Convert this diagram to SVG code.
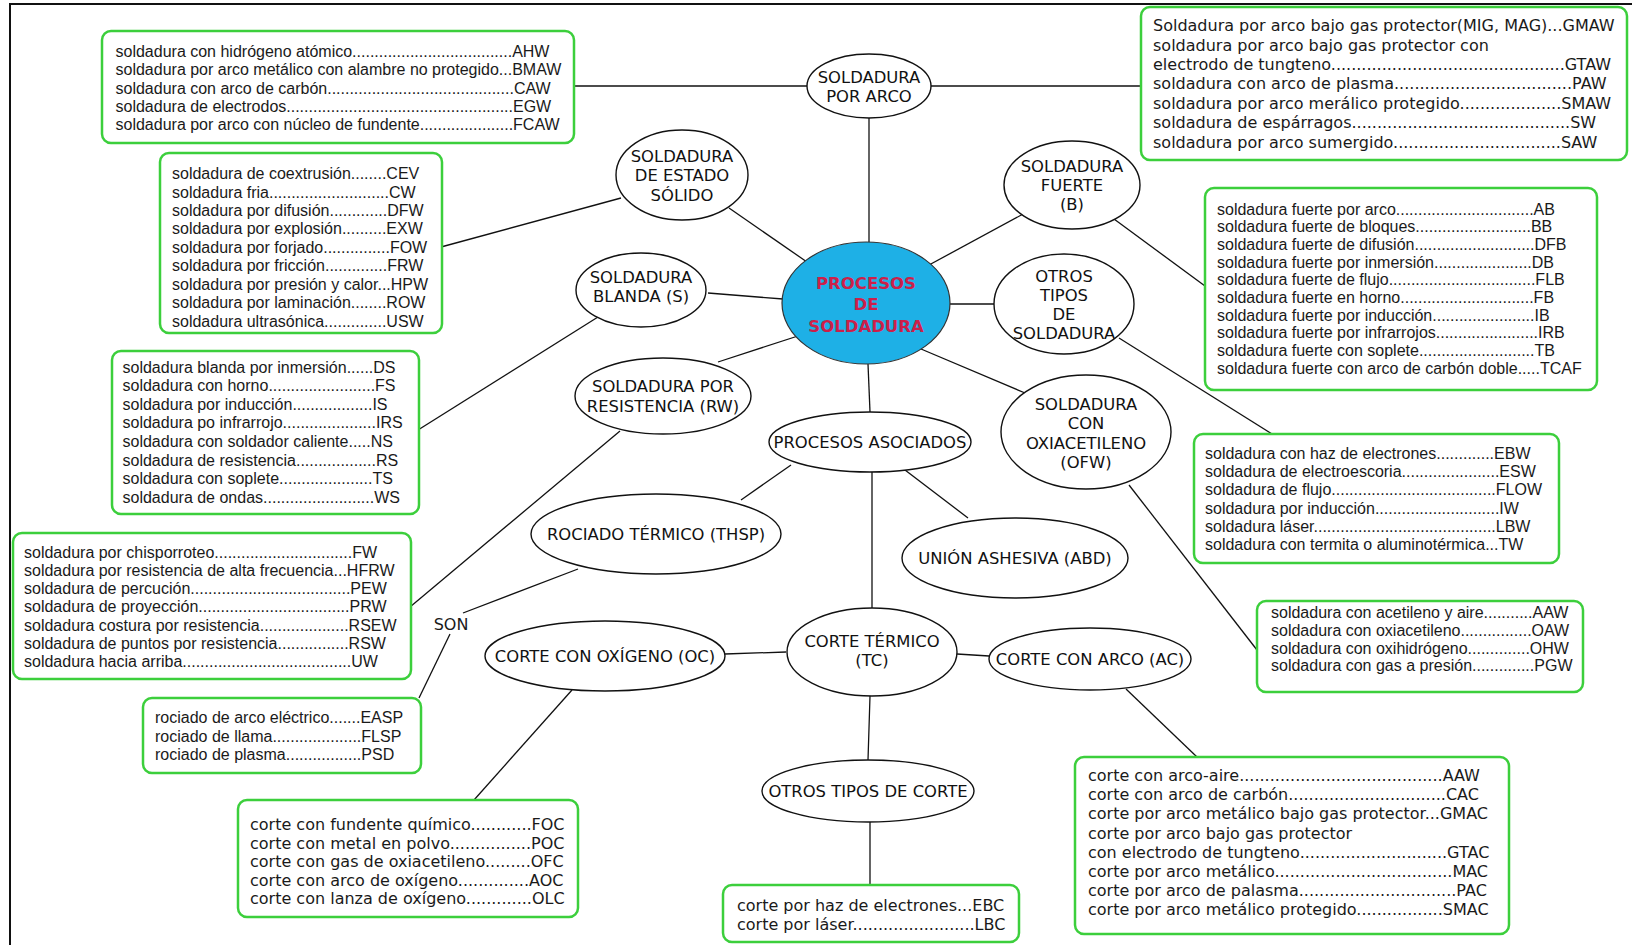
<svg xmlns="http://www.w3.org/2000/svg" width="1632" height="945" viewBox="0 0 1632 945">
<style>
.box{fill:#fff;stroke:#3ccf3c;stroke-width:2.5}
.el{fill:#fff;stroke:#111;stroke-width:1.4}
.a{font-family:"Liberation Sans",Arial,sans-serif;font-size:16px;fill:#1a1a1a}
.v{font-family:"DejaVu Sans",Verdana,sans-serif;font-size:16px;fill:#1a1a1a}
.l{font-family:"DejaVu Sans",Verdana,sans-serif;font-size:16.4px;fill:#111;text-anchor:middle}
.c{stroke:#111;stroke-width:1.3;fill:none}
.ctr{font-family:"DejaVu Sans",Verdana,sans-serif;font-size:16.5px;font-weight:bold;fill:#cc1f4a;text-anchor:middle}
</style>
<rect width="1632" height="945" fill="#fff"/>
<path d="M10,945 V4 H1632" fill="none" stroke="#111" stroke-width="2"/>
<g id="connectors">
<line class="c" x1="573" y1="86" x2="808" y2="86"/>
<line class="c" x1="931" y1="86" x2="1141" y2="86"/>
<line class="c" x1="869" y1="118" x2="869" y2="242"/>
<line class="c" x1="729" y1="208" x2="807" y2="262"/>
<line class="c" x1="441" y1="247" x2="621" y2="198"/>
<line class="c" x1="1025" y1="213" x2="929" y2="265"/>
<line class="c" x1="1114" y1="219" x2="1205" y2="286"/>
<line class="c" x1="708" y1="293" x2="783" y2="299"/>
<line class="c" x1="598" y1="317" x2="418" y2="430"/>
<line class="c" x1="950" y1="304" x2="994" y2="304"/>
<line class="c" x1="1119" y1="338" x2="1272" y2="434"/>
<line class="c" x1="801" y1="335" x2="718" y2="362"/>
<line class="c" x1="620" y1="431" x2="410" y2="607"/>
<line class="c" x1="921" y1="349" x2="1025" y2="393"/>
<line class="c" x1="1129" y1="485" x2="1257" y2="650"/>
<line class="c" x1="868" y1="364" x2="870" y2="412"/>
<line class="c" x1="791" y1="465" x2="741" y2="500"/>
<line class="c" x1="905" y1="470" x2="968" y2="518"/>
<line class="c" x1="872" y1="472" x2="872" y2="608"/>
<line class="c" x1="578" y1="569" x2="463" y2="613"/>
<line class="c" x1="450" y1="634" x2="419" y2="698"/>
<line class="c" x1="786" y1="652" x2="725" y2="654"/>
<line class="c" x1="957" y1="654" x2="989" y2="656"/>
<line class="c" x1="572" y1="690" x2="474" y2="800"/>
<line class="c" x1="870" y1="696" x2="868" y2="760"/>
<line class="c" x1="870" y1="822" x2="870" y2="885"/>
<line class="c" x1="1126" y1="689" x2="1197" y2="757"/>
</g>
<g id="central">
<ellipse cx="866" cy="303" rx="84" ry="61" fill="#1eb0e6" stroke="#333" stroke-width="1.2"/>
<text class="ctr" x="866" y="289">PROCESOS</text>
<text class="ctr" x="866" y="310">DE</text>
<text class="ctr" x="866" y="332">SOLDADURA</text>
</g>
<g id="n-arco"><ellipse class="el" cx="869" cy="86" rx="62" ry="32"/><text class="l" x="869" y="83">SOLDADURA</text><text class="l" x="869" y="102">POR ARCO</text></g>
<g id="n-solido"><ellipse class="el" cx="682" cy="175" rx="66" ry="45"/><text class="l" x="682" y="162">SOLDADURA</text><text class="l" x="682" y="181">DE ESTADO</text><text class="l" x="682" y="200.5">SÓLIDO</text></g>
<g id="n-fuerte"><ellipse class="el" cx="1072" cy="185" rx="68" ry="44"/><text class="l" x="1072" y="171.5">SOLDADURA</text><text class="l" x="1072" y="191">FUERTE</text><text class="l" x="1072" y="210">(B)</text></g>
<g id="n-blanda"><ellipse class="el" cx="641" cy="290" rx="65" ry="37"/><text class="l" x="641" y="283">SOLDADURA</text><text class="l" x="641" y="302">BLANDA (S)</text></g>
<g id="n-otros"><ellipse class="el" cx="1064" cy="304" rx="70" ry="50"/><text class="l" x="1064" y="282">OTROS</text><text class="l" x="1064" y="301">TIPOS</text><text class="l" x="1064" y="320">DE</text><text class="l" x="1064" y="339">SOLDADURA</text></g>
<g id="n-resistencia"><ellipse class="el" cx="663" cy="396" rx="88" ry="38"/><text class="l" x="663" y="392">SOLDADURA POR</text><text class="l" x="663" y="412">RESISTENCIA (RW)</text></g>
<g id="n-oxi"><ellipse class="el" cx="1086" cy="432" rx="85" ry="57"/><text class="l" x="1086" y="410">SOLDADURA</text><text class="l" x="1086" y="429">CON</text><text class="l" x="1086" y="448.5">OXIACETILENO</text><text class="l" x="1086" y="468">(OFW)</text></g>
<g id="n-asociados"><ellipse class="el" cx="870" cy="442" rx="101" ry="30"/><text class="l" x="870" y="448">PROCESOS ASOCIADOS</text></g>
<g id="n-rociado"><ellipse class="el" cx="656" cy="534" rx="125" ry="40"/><text class="l" x="656" y="540">ROCIADO TÉRMICO (THSP)</text></g>
<g id="n-union"><ellipse class="el" cx="1015" cy="558" rx="113" ry="40"/><text class="l" x="1015" y="564">UNIÓN ASHESIVA (ABD)</text></g>
<g id="n-corte"><ellipse class="el" cx="872" cy="652" rx="85" ry="44"/><text class="l" x="872" y="647">CORTE TÉRMICO</text><text class="l" x="872" y="666">(TC)</text></g>
<g id="n-oc"><ellipse class="el" cx="605" cy="656" rx="120" ry="35"/><text class="l" x="605" y="662">CORTE CON OXÍGENO (OC)</text></g>
<g id="n-ac"><ellipse class="el" cx="1090" cy="659" rx="101" ry="31"/><text class="l" x="1090" y="665">CORTE CON ARCO (AC)</text></g>
<g id="n-otroscorte"><ellipse class="el" cx="868" cy="791" rx="106" ry="31"/><text class="l" x="868" y="797">OTROS TIPOS DE CORTE</text></g>
<g id="n-son"><text class="v" x="451" y="630" text-anchor="middle">SON</text></g>
<g id="b-arco1"><rect class="box" x="102" y="31" width="472" height="112" rx="9"/>
<text class="a" x="115.5" y="56.5">soldadura con hidrógeno atómico....................................AHW</text>
<text class="a" x="115.5" y="75">soldadura por arco metálico con alambre no protegido...BMAW</text>
<text class="a" x="115.5" y="93.5">soldadura con arco de carbón..........................................CAW</text>
<text class="a" x="115.5" y="112">soldadura de electrodos...................................................EGW</text>
<text class="a" x="115.5" y="130">soldadura por arco con núcleo de fundente.....................FCAW</text>
</g>
<g id="b-arco2"><rect class="box" x="1141" y="7" width="486" height="153" rx="9"/>
<text class="v" x="1153" y="31">Soldadura por arco bajo gas protector(MIG, MAG)...GMAW</text>
<text class="v" x="1153" y="50.5">soldadura por arco bajo gas protector con</text>
<text class="v" x="1153" y="70">electrodo de tungteno..............................................GTAW</text>
<text class="v" x="1153" y="89.4">soldadura con arco de plasma...................................PAW</text>
<text class="v" x="1153" y="108.8">soldadura por arco merálico protegido....................SMAW</text>
<text class="v" x="1153" y="128.3">soldadura de espárragos...........................................SW</text>
<text class="v" x="1153" y="147.7">soldadura por arco sumergido.................................SAW</text>
</g>
<g id="b-solido"><rect class="box" x="160" y="153" width="282" height="180" rx="9"/>
<text class="a" x="172" y="179">soldadura de coextrusión........CEV</text>
<text class="a" x="172" y="197.5">soldadura fria...........................CW</text>
<text class="a" x="172" y="216">soldadura por difusión.............DFW</text>
<text class="a" x="172" y="234.4">soldadura por explosión..........EXW</text>
<text class="a" x="172" y="252.8">soldadura por forjado...............FOW</text>
<text class="a" x="172" y="271.3">soldadura por fricción..............FRW</text>
<text class="a" x="172" y="289.7">soldadura por presión y calor...HPW</text>
<text class="a" x="172" y="308.2">soldadura por laminación........ROW</text>
<text class="a" x="172" y="326.6">soldadura ultrasónica..............USW</text>
</g>
<g id="b-fuerte"><rect class="box" x="1205" y="188" width="392" height="202" rx="9"/>
<text class="a" x="1217" y="214.5">soldadura fuerte por arco...............................AB</text>
<text class="a" x="1217" y="232.2">soldadura fuerte de bloques..........................BB</text>
<text class="a" x="1217" y="249.9">soldadura fuerte de difusión...........................DFB</text>
<text class="a" x="1217" y="267.6">soldadura fuerte por inmersión......................DB</text>
<text class="a" x="1217" y="285.3">soldadura fuerte de flujo.................................FLB</text>
<text class="a" x="1217" y="303">soldadura fuerte en horno..............................FB</text>
<text class="a" x="1217" y="320.7">soldadura fuerte por inducción.......................IB</text>
<text class="a" x="1217" y="338.4">soldadura fuerte por infrarrojos.......................IRB</text>
<text class="a" x="1217" y="356.1">soldadura fuerte con soplete..........................TB</text>
<text class="a" x="1217" y="373.8">soldadura fuerte con arco de carbón doble.....TCAF</text>
</g>
<g id="b-blanda"><rect class="box" x="112" y="351" width="307" height="163" rx="9"/>
<text class="a" x="122.5" y="372.5">soldadura blanda por inmersión......DS</text>
<text class="a" x="122.5" y="391.1">soldadura con horno........................FS</text>
<text class="a" x="122.5" y="409.7">soldadura por inducción..................IS</text>
<text class="a" x="122.5" y="428.3">soldadura po infrarrojo.....................IRS</text>
<text class="a" x="122.5" y="446.9">soldadura con soldador caliente.....NS</text>
<text class="a" x="122.5" y="465.5">soldadura de resistencia..................RS</text>
<text class="a" x="122.5" y="484.1">soldadura con soplete.....................TS</text>
<text class="a" x="122.5" y="502.7">soldadura de ondas.........................WS</text>
</g>
<g id="b-otros"><rect class="box" x="1194" y="434" width="365" height="129" rx="9"/>
<text class="a" x="1205" y="459">soldadura con haz de electrones.............EBW</text>
<text class="a" x="1205" y="477.2">soldadura de electroescoria......................ESW</text>
<text class="a" x="1205" y="495.4">soldadura de flujo.....................................FLOW</text>
<text class="a" x="1205" y="513.6">soldadura por inducción............................IW</text>
<text class="a" x="1205" y="531.8">soldadura láser.........................................LBW</text>
<text class="a" x="1205" y="550">soldadura con termita o aluminotérmica...TW</text>
</g>
<g id="b-resistencia"><rect class="box" x="13" y="533" width="398" height="146" rx="9"/>
<text class="a" x="24" y="557.5">soldadura por chisporroteo...............................FW</text>
<text class="a" x="24" y="575.8">soldadura por resistencia de alta frecuencia...HFRW</text>
<text class="a" x="24" y="594.1">soldadura de percución....................................PEW</text>
<text class="a" x="24" y="612.4">soldadura de proyección..................................PRW</text>
<text class="a" x="24" y="630.7">soldadura costura por resistencia....................RSEW</text>
<text class="a" x="24" y="649">soldadura de puntos por resistencia................RSW</text>
<text class="a" x="24" y="667.3">soldadura hacia arriba......................................UW</text>
</g>
<g id="b-oxi"><rect class="box" x="1257" y="601" width="326" height="91" rx="9"/>
<text class="a" x="1271" y="618">soldadura con acetileno y aire...........AAW</text>
<text class="a" x="1271" y="635.8">soldadura con oxiacetileno................OAW</text>
<text class="a" x="1271" y="653.6">soldadura con oxihidrógeno..............OHW</text>
<text class="a" x="1271" y="671.4">soldadura con gas a presión..............PGW</text>
</g>
<g id="b-rociado"><rect class="box" x="143" y="698" width="278" height="75" rx="9"/>
<text class="a" x="155" y="723">rociado de arco eléctrico.......EASP</text>
<text class="a" x="155" y="741.5">rociado de llama....................FLSP</text>
<text class="a" x="155" y="760">rociado de plasma.................PSD</text>
</g>
<g id="b-oc"><rect class="box" x="238" y="800" width="340" height="117" rx="9"/>
<text class="v" x="250" y="830">corte con fundente químico............FOC</text>
<text class="v" x="250" y="848.5">corte con metal en polvo................POC</text>
<text class="v" x="250" y="867">corte con gas de oxiacetileno.........OFC</text>
<text class="v" x="250" y="885.5">corte con arco de oxígeno..............AOC</text>
<text class="v" x="250" y="904">corte con lanza de oxígeno.............OLC</text>
</g>
<g id="b-otroscorte"><rect class="box" x="723" y="885" width="296" height="57" rx="9"/>
<text class="v" x="737" y="911">corte por haz de electrones...EBC</text>
<text class="v" x="737" y="930">corte por láser........................LBC</text>
</g>
<g id="b-ac"><rect class="box" x="1075" y="757" width="434" height="177" rx="9"/>
<text class="v" x="1088" y="781">corte con arco-aire........................................AAW</text>
<text class="v" x="1088" y="800.2">corte con arco de carbón...............................CAC</text>
<text class="v" x="1088" y="819.4">corte por arco metálico bajo gas protector...GMAC</text>
<text class="v" x="1088" y="838.6">corte por arco bajo gas protector</text>
<text class="v" x="1088" y="857.8">con electrodo de tungteno.............................GTAC</text>
<text class="v" x="1088" y="877">corte por arco metálico...................................MAC</text>
<text class="v" x="1088" y="896.2">corte por arco de palasma...............................PAC</text>
<text class="v" x="1088" y="915.4">corte por arco metálico protegido.................SMAC</text>
</g>
</svg>
